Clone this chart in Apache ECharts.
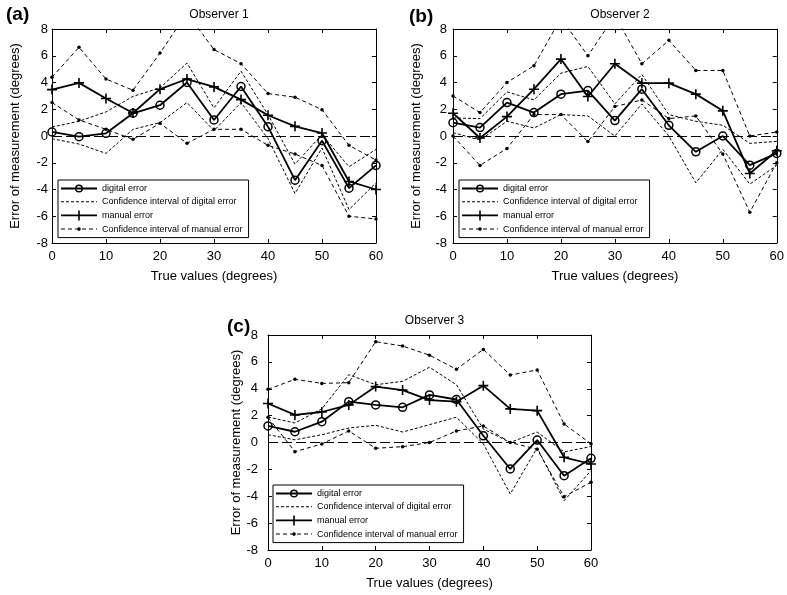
<!DOCTYPE html>
<html>
<head>
<meta charset="utf-8">
<script src="https://cdn.jsdelivr.net/npm/echarts@6/dist/echarts.min.js"></script>
<style>
html,body{margin:0;padding:0;background:#fff;}
#chart{width:787px;height:595px;}
</style>
</head>
<body>
<div id="chart"></div>
<script>
// ---------- data ----------
const trueValues = [0, 5, 10, 15, 20, 25, 30, 35, 40, 45, 50, 55, 60];
const xTickLabels = [0, 10, 20, 30, 40, 50, 60];
const yTickLabels = [-8, -6, -4, -2, 0, 2, 4, 6, 8];
const panelTitles = ['Observer 1', 'Observer 2', 'Observer 3'];
const panelLetters = ['(a)', '(b)', '(c)'];
const seriesNames = ['digital error', 'Confidence interval of digital error', 'manual error', 'Confidence interval of manual error'];

// Observer 1
const digital1      = [0.3, -0.05, 0.2, 1.7, 2.3, 4.0, 1.2, 3.7, 0.7, -3.3, -0.35, -3.9, -2.2];
const digital1Upper = [0.67, 1.1, 1.8, 2.96, 3.6, 5.45, 2.1, 4.85, 1.6, -2.1, 0.1, -2.3, -1.0];
const digital1Lower = [-0.2, -0.6, -1.3, 0.5, 1.0, 2.5, 0.4, 2.5, -0.2, -4.3, -0.9, -5.5, -3.5];
const manual1       = [3.47, 3.97, 2.8, 1.72, 3.5, 4.26, 3.67, 2.72, 1.55, 0.72, 0.22, -3.4, -4.0];
const manual1Upper  = [4.4, 6.63, 4.26, 3.42, 6.2, 9.2, 6.46, 5.41, 3.17, 2.9, 1.97, -0.7, -1.8];
const manual1Lower  = [2.5, 1.2, 0.5, -0.25, 0.95, -0.55, 0.5, 0.5, -0.7, -1.35, -2.2, -6.0, -6.2];

// Observer 2
const digital2      = [1.0, 0.63, 2.5, 1.75, 3.13, 3.4, 1.15, 3.5, 0.8, -1.18, 0.0, -2.18, -1.3];
const digital2Upper = [1.35, 1.3, 3.3, 2.7, 4.7, 5.2, 2.4, 4.6, 1.6, 1.1, 0.8, -0.55, -0.4];
const digital2Lower = [0.25, -0.3, 1.1, 0.6, 1.6, 1.5, 0.0, 2.4, 0.0, -3.5, -1.0, -3.6, -2.2];
const manual2       = [1.7, -0.15, 1.45, 3.5, 5.75, 2.95, 5.4, 3.95, 3.95, 3.13, 1.88, -2.8, -1.1];
const manual2Upper  = [3.0, 1.75, 4.0, 5.25, 8.8, 6.0, 9.0, 5.4, 7.15, 4.9, 4.9, 0.0, 0.3];
const manual2Lower  = [0.0, -2.2, -0.93, 1.6, 1.6, -0.42, 2.2, 2.7, 1.3, 1.5, -1.35, -5.7, -2.0];

// Observer 3
const digital3      = [1.23, 0.8, 1.55, 3.04, 2.8, 2.62, 3.54, 3.2, 0.5, -1.97, 0.18, -2.47, -1.18];
const digital3Upper = [1.9, 1.45, 2.5, 5.05, 4.3, 4.55, 5.6, 4.3, 1.0, 0.0, 0.78, -0.7, -0.3];
const digital3Lower = [0.58, 0.2, 0.58, 1.08, 1.28, 0.78, 1.33, 1.88, -0.1, -3.83, -0.4, -4.33, -2.1];
const manual3       = [2.9, 2.05, 2.27, 2.8, 4.16, 3.9, 3.16, 3.04, 4.23, 2.5, 2.37, -1.1, -1.6];
const manual3Upper  = [3.96, 4.7, 4.4, 4.45, 7.5, 7.18, 6.5, 5.45, 6.93, 5.02, 5.4, 1.38, -0.1];
const manual3Lower  = [1.87, -0.68, -0.11, 0.86, -0.43, -0.31, 0.0, 0.86, 1.23, 0.0, -0.5, -4.03, -2.96];

const panelData = [
  [digital1, digital1Upper, digital1Lower, manual1, manual1Upper, manual1Lower],
  [digital2, digital2Upper, digital2Lower, manual2, manual2Upper, manual2Lower],
  [digital3, digital3Upper, digital3Lower, manual3, manual3Upper, manual3Lower]
];

// ---------- layout / style ----------
const layout = [
  {left: 52,  top: 29,  width: 324, height: 214, yLabelMargin: 4,  yNameGap: 30, legendLeft: 58,  legendTop: 180, letterLeft: 1,   letterTop: 0},
  {left: 453, top: 29,  width: 324, height: 214, yLabelMargin: 6,  yNameGap: 30, legendLeft: 459, legendTop: 180, letterLeft: 404, letterTop: 2},
  {left: 268, top: 335, width: 323, height: 215, yLabelMargin: 10, yNameGap: 24, legendLeft: 273, legendTop: 485, letterLeft: 222, letterTop: 312}
];
const FONT = '"Liberation Sans", Arial, sans-serif';
const plusPath = 'path://M4.2,0 H5.8 V4.2 H10 V5.8 H5.8 V10 H4.2 V5.8 H0 V4.2 H4.2 Z';

// legend icons (36 x 10 box)
function dashes(on, off, w, h) {
  let d = '';
  for (let x = 0; x < 36; x += on + off) {
    const e = Math.min(36, x + on);
    d += 'M' + x + ',' + (5 - h / 2) + ' H' + e + ' V' + (5 + h / 2) + ' H' + x + ' Z ';
  }
  return d;
}
const iconDigital = 'path://M0,4.1 H36 V5.9 H0 Z M14,5 A4,4 0 1,1 22,5 A4,4 0 1,1 14,5 Z M15.4,5 A2.6,2.6 0 1,0 20.6,5 A2.6,2.6 0 1,0 15.4,5 Z';
const iconDigitalCI = 'path://' + dashes(3, 2, 36, 1);
const iconManual = 'path://M0,4.1 H36 V5.9 H0 Z M17.2,0 H18.8 V10 H17.2 Z';
const iconManualCI = 'path://' + dashes(4, 3, 36, 1) + ' M16.2,5 A1.8,1.8 0 1,1 19.8,5 A1.8,1.8 0 1,1 16.2,5 Z';
const legendIcons = [iconDigital, iconDigitalCI, iconManual, iconManualCI];

const pairs = arr => trueValues.map((x, i) => [x, arr[i]]);

const grids = [], xAxes = [], yAxes = [], series = [], legends = [], titles = [];
const xMin = xTickLabels[0], xMax = xTickLabels[xTickLabels.length - 1];
const yMin = yTickLabels[0], yMax = yTickLabels[yTickLabels.length - 1];

layout.forEach((L, p) => {
  grids.push({left: L.left, top: L.top, width: L.width, height: L.height, containLabel: false});
  const axLine = {show: true, onZero: false, lineStyle: {color: '#000', width: 1}};
  const tick = {show: true, inside: true, length: 4, lineStyle: {color: '#000'}};
  xAxes.push({
    type: 'value', gridIndex: p, position: 'bottom', min: xMin, max: xMax, interval: 10,
    axisLine: axLine, axisTick: tick, splitLine: {show: false},
    axisLabel: {color: '#000', fontSize: 13, fontFamily: FONT, margin: 7},
    name: 'True values (degrees)', nameLocation: 'middle', nameGap: 27,
    nameTextStyle: {color: '#000', fontSize: 13, fontFamily: FONT}
  });
  xAxes.push({
    type: 'value', gridIndex: p, position: 'top', min: xMin, max: xMax, interval: 10,
    axisLine: axLine, axisTick: tick, splitLine: {show: false}, axisLabel: {show: false}
  });
  yAxes.push({
    type: 'value', gridIndex: p, position: 'left', min: yMin, max: yMax, interval: 2,
    axisLine: axLine, axisTick: tick, splitLine: {show: false},
    axisLabel: {color: '#000', fontSize: 13, fontFamily: FONT, margin: L.yLabelMargin},
    name: 'Error of measurement (degrees)', nameLocation: 'middle', nameGap: L.yNameGap,
    nameTextStyle: {color: '#000', fontSize: 13, fontFamily: FONT}
  });
  yAxes.push({
    type: 'value', gridIndex: p, position: 'right', min: yMin, max: yMax, interval: 2,
    axisLine: axLine, axisTick: tick, splitLine: {show: false}, axisLabel: {show: false}
  });

  const xi = 2 * p, yi = 2 * p;
  const [dig, digHi, digLo, man, manHi, manLo] = panelData[p];
  const base = {type: 'line', xAxisIndex: xi, yAxisIndex: yi, animation: false, clip: true, z: 3};
  const ciDig = {color: '#000', width: 1, type: [3, 2]};
  const ciMan = {color: '#000', width: 1, type: [4, 3]};

  series.push(Object.assign({}, base, {
    name: seriesNames[1], data: pairs(digHi), symbol: 'none', lineStyle: ciDig, itemStyle: {color: '#000'},
    markLine: {
      silent: true, symbol: 'none', label: {show: false}, animation: false,
      lineStyle: {color: '#000', width: 1, type: [10, 4]},
      data: [{yAxis: 0}]
    }
  }));
  series.push(Object.assign({}, base, {
    name: seriesNames[1], data: pairs(digLo), symbol: 'none', lineStyle: ciDig, itemStyle: {color: '#000'}
  }));
  series.push(Object.assign({}, base, {
    name: seriesNames[3], data: pairs(manHi), symbol: 'circle', symbolSize: 3.5,
    lineStyle: ciMan, itemStyle: {color: '#000'}
  }));
  series.push(Object.assign({}, base, {
    name: seriesNames[3], data: pairs(manLo), symbol: 'circle', symbolSize: 3.5,
    lineStyle: ciMan, itemStyle: {color: '#000'}
  }));
  series.push(Object.assign({}, base, {
    name: seriesNames[2], data: pairs(man), symbol: plusPath, symbolSize: 10,
    lineStyle: {color: '#000', width: 1.8}, itemStyle: {color: '#000'}, z: 4
  }));
  series.push(Object.assign({}, base, {
    name: seriesNames[0], data: pairs(dig), symbol: 'circle', symbolSize: 8,
    lineStyle: {color: '#000', width: 1.8},
    itemStyle: {color: 'rgba(0,0,0,0)', borderColor: '#000', borderWidth: 1.5}, z: 5
  }));

  legends.push({
    orient: 'vertical', left: L.legendLeft, top: L.legendTop,
    data: seriesNames.map((n, k) => ({name: n, icon: legendIcons[k]})),
    itemWidth: 36, itemHeight: 10, itemGap: 4.2,
    padding: [4, 6, 4, 3],
    borderColor: '#000', borderWidth: 1, backgroundColor: '#fff',
    selectedMode: false,
    itemStyle: {color: '#000', borderWidth: 0},
    textStyle: {color: '#000', fontSize: 9, fontFamily: FONT},
    z: 10
  });

  titles.push({
    text: panelTitles[p], left: L.left + L.width / 2, top: L.top - 25, textAlign: 'center',
    textStyle: {color: '#000', fontSize: 12, fontWeight: 'normal', fontFamily: FONT}
  });
  titles.push({
    text: panelLetters[p], left: L.letterLeft, top: L.letterTop,
    textStyle: {color: '#000', fontSize: 19, fontWeight: 'bold', fontFamily: FONT}
  });
});

const chart = echarts.init(document.getElementById('chart'), null, {renderer: 'canvas'});
chart.setOption({
  backgroundColor: '#fff',
  animation: false,
  title: titles,
  grid: grids,
  xAxis: xAxes,
  yAxis: yAxes,
  legend: legends,
  series: series
});
</script>
</body>
</html>
